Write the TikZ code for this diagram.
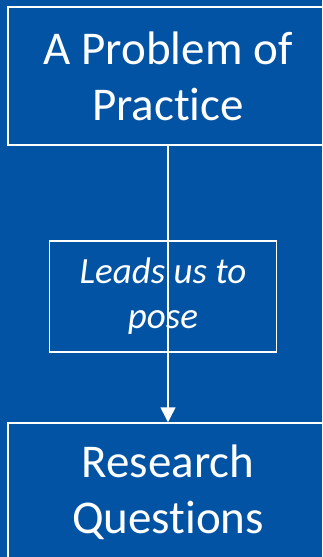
\documentclass[tikz,border=0pt]{standalone}
\usepackage{fontspec}
\setmainfont{Carlito}[Ligatures=NoCommon]
\usetikzlibrary{arrows.meta}
\definecolor{slideblue}{RGB}{2,83,164}

\begin{document}
\begin{tikzpicture}[x=1pt, y=-1pt, line width=1.5pt,
  box/.style={draw=white, text=white, align=center, inner sep=0pt},
  bigbox/.style={box, minimum width=320pt, minimum height=138pt,
    font=\fontsize{47}{56}\selectfont},
  smallbox/.style={box, minimum width=227pt, minimum height=111pt,
    font=\fontsize{37}{45}\selectfont\itshape}]
  \fill[slideblue] (0,0) rectangle (322,557);
  \useasboundingbox (0,0) rectangle (322,557);
  \node[bigbox] (problem) at (168,76) {A Problem of\\Practice};
  \node[bigbox] (questions) at (168,492) {Research\\Questions};
  \draw[white, -{Triangle[width=15pt,length=15pt]}] (problem) -- (questions);
  \node[smallbox] (pose) at (163,296.5) {Leads us to\\pose};
\end{tikzpicture}
\end{document}
